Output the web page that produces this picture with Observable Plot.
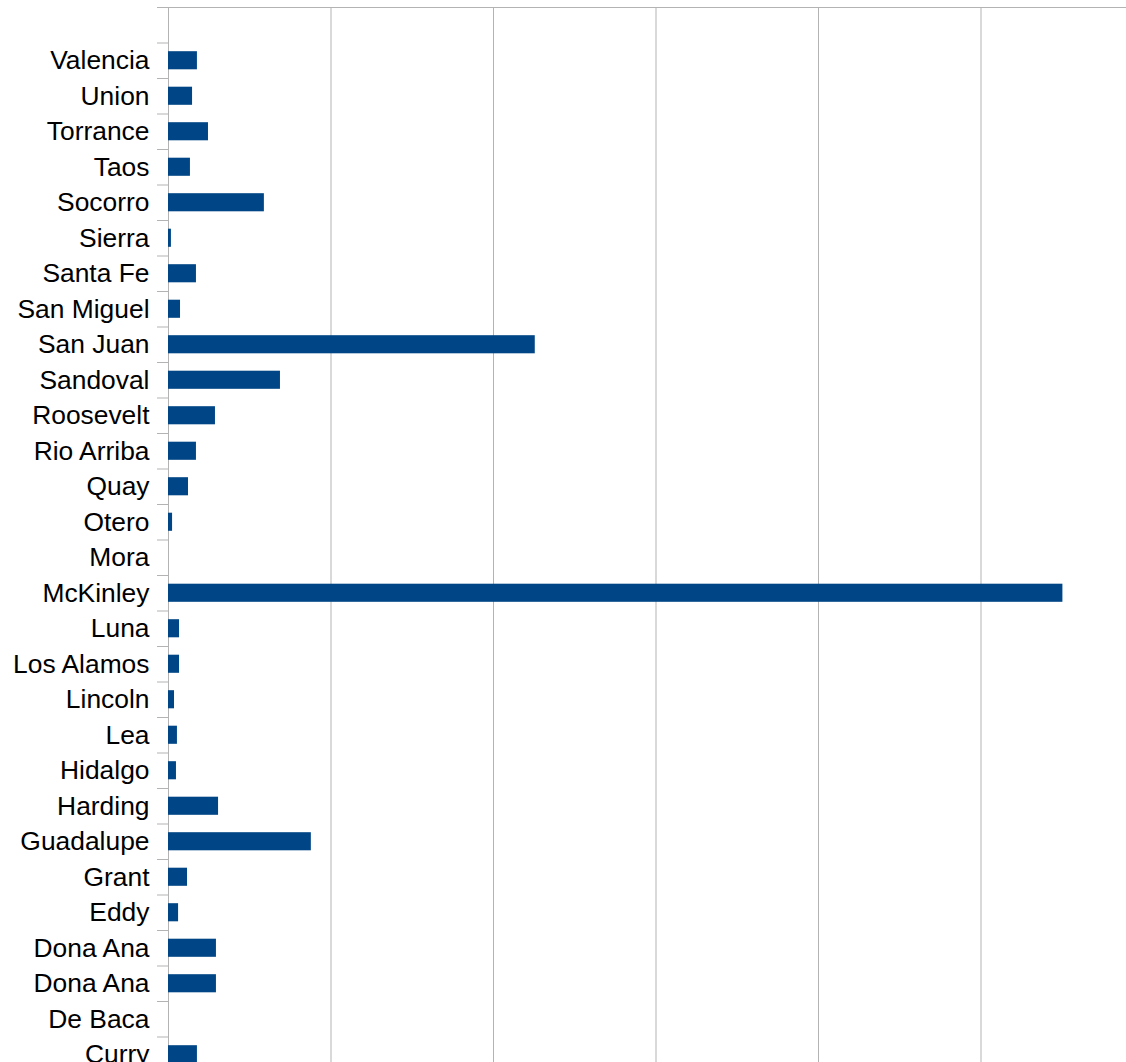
<!DOCTYPE html>
<html>
<head>
<meta charset="utf-8">
<script src="https://cdn.jsdelivr.net/npm/d3@7"></script>
<script src="https://cdn.jsdelivr.net/npm/@observablehq/plot@0.6"></script>
<style>
  html, body { margin: 0; padding: 0; background: #fff; overflow: hidden; }
  #chart svg { display: block; max-width: none !important; }
</style>
</head>
<body>
<div id="chart"></div>
<script>
// Categories, top to bottom as drawn
const counties = ["Valencia", "Union", "Torrance", "Taos", "Socorro", "Sierra", "Santa Fe", "San Miguel",
  "San Juan", "Sandoval", "Roosevelt", "Rio Arriba", "Quay", "Otero", "Mora", "McKinley", "Luna",
  "Los Alamos", "Lincoln", "Lea", "Hidalgo", "Harding", "Guadalupe", "Grant", "Eddy", "Dona Ana",
  "Dona Ana", "De Baca", "Curry"];
const values = [17.8, 14.8, 24.6, 13.5, 59.0, 1.8, 17.2, 7.4,
  225.7, 68.9, 28.9, 17.2, 12.3, 2.5, 0, 550.4, 6.8,
  6.8, 3.7, 5.5, 4.9, 30.8, 87.9, 11.7, 6.2, 29.5,
  29.5, 0, 17.8];
const gridTicks = [0, 100, 200, 300, 400, 500, 600];

const rows = counties.map((c, i) => ({key: "k" + i, county: c, value: values[i]}));
const labelOf = Object.fromEntries(rows.map(r => [r.key, r.county]));
const domain = ["top", ...rows.map(r => r.key)];

const gray = "#b3b3b3";
const plot = Plot.plot({
  width: 1160,
  height: 1100,
  marginLeft: 168,
  marginRight: 17,
  marginTop: 7,
  marginBottom: 28,
  style: {fontFamily: "'Liberation Sans', Arial, sans-serif", fontSize: "26.4px", color: "#000", background: "#fff", maxWidth: "none"},
  x: {domain: [0, 600], axis: null},
  y: {domain, paddingInner: 0.49, paddingOuter: 0.245, round: false, axis: null},
  marks: [
    Plot.ruleX(gridTicks, {stroke: gray, strokeOpacity: 1}),
    Plot.ruleY([domain[0]], {x1: 0, x2: 600, dy: -17.75, stroke: gray, strokeOpacity: 1}),
    Plot.axisY({tickSize: 11, tickFormat: () => "", dy: -17.75, stroke: gray, strokeOpacity: 1, label: null}),
    Plot.barX(rows, {x: "value", y: "key", fill: "#004586"}),
    Plot.axisY({tickSize: 0, tickPadding: 19, tickFormat: k => labelOf[k] ?? "", fill: "#000", label: null})
  ]
});
document.getElementById("chart").appendChild(plot);
</script>
</body>
</html>
